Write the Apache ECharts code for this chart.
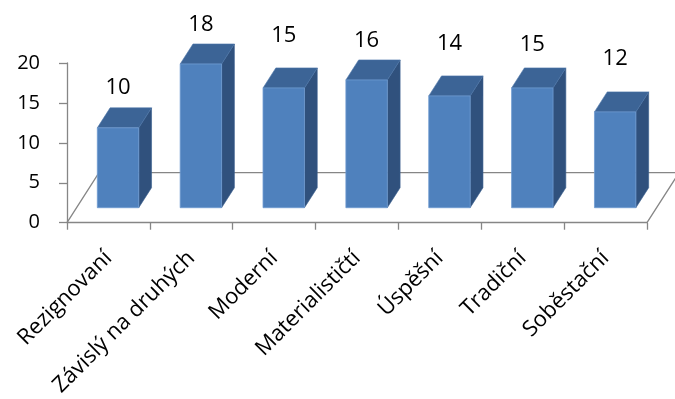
<!DOCTYPE html>
<html>
<head>
<meta charset="utf-8">
<script src="https://cdn.jsdelivr.net/npm/echarts@6/dist/echarts.min.js"></script>
<style>
  html, body { margin: 0; padding: 0; background: #ffffff; }
  #chart { width: 675px; height: 399px; }
</style>
</head>
<body>
<div id="chart"></div>
<script>
// Survey groups and how many respondents fell into each
const categories = ['Rezignovaní', 'Závislý na druhých', 'Moderní', 'Materialističtí', 'Úspěšní', 'Tradiční', 'Soběstační'];
const counts = [10, 18, 15, 16, 14, 15, 12];
const yMin = 0, yMax = 20, yStep = 5;

// Oblique projection of the floor depth (pixels) and where the bars sit in it
const DEPTH_X = 32, DEPTH_Y = 50;
const BAR_FRONT = 0.3, BAR_BACK = 0.7;
// Gap between each bar's top and its value label
const labelLift = [20, 19, 32, 19, 32, 23, 33];

const FRONT = '#4F81BD', TOP = '#3C6496', SIDE = '#30517D';
const AXIS = '#868686';
const FONT = '"Open Sans", "Noto Sans", sans-serif';

const chart = echarts.init(document.getElementById('chart'), null, { renderer: 'canvas' });

function renderFloor(params, api) {
  const cs = params.coordSys;
  const y0 = api.coord([0, 0])[1];
  const x0 = cs.x, x1 = cs.x + cs.width;
  const s = { stroke: AXIS, lineWidth: 1.3, fill: null };
  return {
    type: 'group',
    children: [
      { type: 'polyline', shape: { points: [[x0, y0], [x0 + DEPTH_X, y0 - DEPTH_Y], [x1 + DEPTH_X, y0 - DEPTH_Y], [x1, y0]] }, style: s }
    ]
  };
}

function renderBar(params, api) {
  const i = api.value(0), v = api.value(1);
  const base = api.coord([i, 0]);
  const topPt = api.coord([i, v]);
  const band = api.size([1, 0])[0];
  const w = band * 0.5;
  const fx = BAR_FRONT * DEPTH_X, fy = BAR_FRONT * DEPTH_Y;
  const dx = (BAR_BACK - BAR_FRONT) * DEPTH_X, dy = (BAR_BACK - BAR_FRONT) * DEPTH_Y;
  const L = base[0] - w / 2 + fx, R = base[0] + w / 2 + fx;
  const B = base[1] - fy, T = topPt[1] - fy;
  const labelX = base[0] + fx;
  const labelY = T - dy - labelLift[params.dataIndex];
  return {
    type: 'group',
    children: [
      { type: 'polygon', shape: { points: [[R, T], [R + dx, T - dy], [R + dx, B - dy], [R, B]] },
        style: { fill: SIDE, stroke: '#3A5F8E', lineWidth: 0.6 } },
      { type: 'polygon', shape: { points: [[L, T], [R, T], [R + dx, T - dy], [L + dx, T - dy]] },
        style: { fill: TOP, stroke: '#4A74A8', lineWidth: 0.6 } },
      { type: 'rect', shape: { x: L, y: T, width: R - L, height: B - T },
        style: { fill: FRONT, stroke: '#6F9AD0', lineWidth: 0.8 } },
      { type: 'text', style: { text: String(v), x: labelX, y: labelY, align: 'center', verticalAlign: 'middle',
        font: '22px ' + FONT, fill: '#000000' } }
    ]
  };
}

chart.setOption({
  animation: false,
  backgroundColor: '#ffffff',
  grid: { left: 67, right: 28, top: 63, bottom: 176 },
  xAxis: {
    type: 'category',
    data: categories,
    boundaryGap: true,
    axisLine: { show: true, lineStyle: { color: AXIS, width: 1.3 } },
    axisTick: { show: true, length: 7, alignWithLabel: false, interval: 0, lineStyle: { color: AXIS, width: 1.3 } },
    axisLabel: { interval: 0, rotate: 45, margin: 32, color: '#000000', fontSize: 22, fontFamily: FONT }
  },
  yAxis: {
    type: 'value',
    min: yMin, max: yMax, interval: yStep,
    axisLine: { show: true, lineStyle: { color: AXIS, width: 1.3 } },
    axisTick: { show: true, length: 8, lineStyle: { color: AXIS, width: 1.3 } },
    splitLine: { show: false },
    axisLabel: { margin: 27, color: '#000000', fontSize: 20, fontFamily: FONT }
  },
  series: [
    { type: 'custom', name: 'floor', renderItem: renderFloor, data: [[0, 0]], z: 1, silent: true },
    { type: 'custom', name: 'Počet', renderItem: renderBar, z: 2,
      data: counts.map((c, i) => [i, c]) }
  ]
});
</script>
</body>
</html>
